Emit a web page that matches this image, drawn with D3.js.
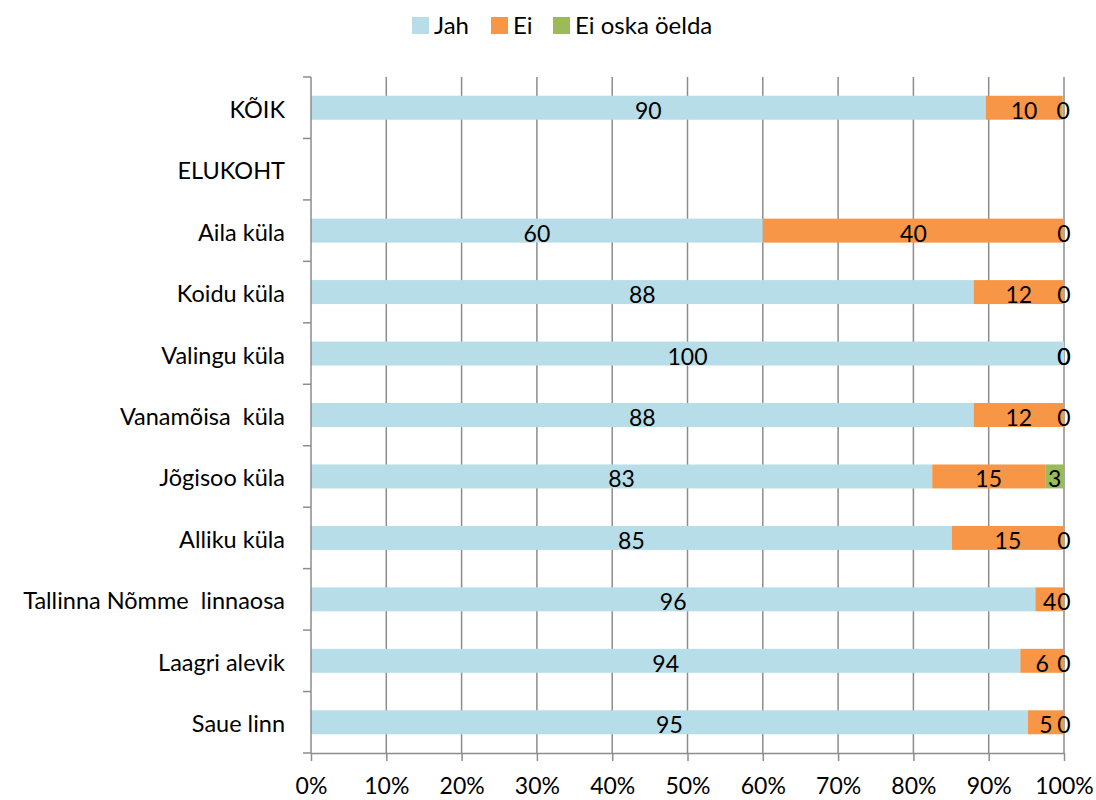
<!DOCTYPE html>
<html>
<head>
<meta charset="utf-8">
<script src="https://cdn.jsdelivr.net/npm/d3@7"></script>
<style>
  body { margin: 0; background: #fff; }
  svg text { font-family: Lato, "Open Sans", sans-serif; fill: #000; white-space: pre; }
</style>
</head>
<body>
<svg id="chart" width="1096" height="800"></svg>
<script>
// categories top to bottom
const categories = ["KÕIK", "ELUKOHT", "Aila küla", "Koidu küla", "Valingu küla", "Vanamõisa  küla",
  "Jõgisoo küla", "Alliku küla", "Tallinna Nõmme  linnaosa", "Laagri alevik", "Saue linn"];
const seriesNames = ["Jah", "Ei", "Ei oska öelda"];
const seriesColors = ["#b7dde8", "#f79646", "#9bbb59"];

// percent values (ELUKOHT is a heading row, no data)
const jah    = [89.6, null, 60.0, 88.0, 100, 88.0, 82.5, 85.1, 96.2, 94.2, 95.2];
const ei     = [10.2, null, 40.0, 12.0, 0,   12.0, 15.0, 14.9, 3.8,  5.8,  4.8];
const eiOska = [0.2,  null, 0,    0,    0,   0,    2.5,  0,    0,    0,    0];

const tickValues = [0, 0.1, 0.2, 0.3, 0.4, 0.5, 0.6, 0.7, 0.8, 0.9, 1];

const svg = d3.select("#chart");
const margin = { top: 77, left: 311, right: 1064, bottom: 753 };

const x = d3.scaleLinear().domain([0, 1]).range([margin.left, margin.right]);
const y = d3.scaleBand().domain(categories).range([margin.top, margin.bottom]).padding(0);
const barH = y.bandwidth() * 0.39;

// gridlines
svg.append("g")
  .selectAll("line")
  .data(tickValues.slice(1))
  .join("line")
  .attr("x1", d => x(d)).attr("x2", d => x(d))
  .attr("y1", margin.top).attr("y2", margin.bottom)
  .attr("stroke", "#8c8c8c")
  .attr("stroke-width", 1.5);

// stacked bars
const rows = categories.map((c, i) => ({ cat: c, vals: [jah[i], ei[i], eiOska[i]] }));
const segs = [];
rows.forEach(r => {
  if (r.vals[0] == null) return;
  const total = d3.sum(r.vals);
  let acc = 0;
  r.vals.forEach((v, k) => {
    segs.push({ cat: r.cat, k, v, x0: acc / total, x1: (acc + v) / total });
    acc += v;
  });
});

svg.append("g")
  .selectAll("rect")
  .data(segs.filter(d => d.v > 0))
  .join("rect")
  .attr("x", d => x(d.x0))
  .attr("width", d => x(d.x1) - x(d.x0))
  .attr("y", d => y(d.cat) + (y.bandwidth() - barH) / 2)
  .attr("height", barH)
  .attr("fill", d => seriesColors[d.k]);

// value labels
svg.append("g")
  .selectAll("text")
  .data(segs)
  .join("text")
  .attr("x", d => (x(d.x0) + x(d.x1)) / 2)
  .attr("y", d => y(d.cat) + y.bandwidth() / 2 + 11)
  .attr("text-anchor", "middle")
  .attr("font-size", 23)
  .text(d => Math.round(d.v));

// left axis
const yAxis = svg.append("g")
  .attr("transform", `translate(${margin.left},0)`)
  .call(d3.axisLeft(y).tickSize(0).tickPadding(26));
yAxis.select(".domain").remove();
yAxis.selectAll("text")
  .attr("font-size", 23.5)
  .attr("dy", null)
  .attr("y", 10);

svg.append("g")
  .selectAll("line")
  .data(d3.range(categories.length + 1))
  .join("line")
  .attr("x1", margin.left - 8).attr("x2", margin.left)
  .attr("y1", i => margin.top + i * y.step())
  .attr("y2", i => margin.top + i * y.step())
  .attr("stroke", "#8c8c8c")
  .attr("stroke-width", 1.5);

svg.append("line")
  .attr("x1", margin.left).attr("x2", margin.left)
  .attr("y1", margin.top).attr("y2", margin.bottom)
  .attr("stroke", "#8c8c8c")
  .attr("stroke-width", 1.5);

// bottom axis
const xAxis = svg.append("g")
  .attr("transform", `translate(0,${margin.bottom})`)
  .call(d3.axisBottom(x).tickValues(tickValues).tickFormat(d3.format(".0%")).tickSize(8).tickSizeOuter(0));
xAxis.select(".domain").attr("stroke", "#8c8c8c").attr("stroke-width", 1.5);
xAxis.selectAll(".tick line").attr("stroke", "#8c8c8c").attr("stroke-width", 1.5);
xAxis.selectAll("text").attr("font-size", 23).attr("dy", null).attr("y", 41);

// legend
const legendX = [412, 491, 553];
const legend = svg.append("g")
  .selectAll("g")
  .data(seriesNames)
  .join("g")
  .attr("transform", (d, i) => `translate(${legendX[i]},17)`);
legend.append("rect").attr("width", 17).attr("height", 17).attr("fill", (d, i) => seriesColors[i]);
legend.append("text").attr("x", 22).attr("y", 17).attr("font-size", 24).text(d => d);
</script>
</body>
</html>
